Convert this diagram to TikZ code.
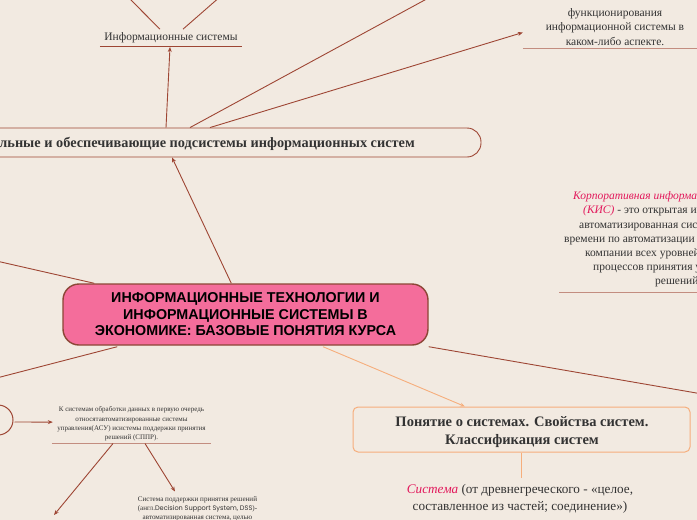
\documentclass[tikz,border=0pt]{standalone}
\usepackage{fontspec}
\setmainfont{Liberation Serif}
\newfontfamily\titlefont{Liberation Sans}
\newfontfamily\dssfont{Poppins}
\usetikzlibrary{arrows.meta,calc}
\definecolor{bg}{HTML}{F2EAE1}
\definecolor{linkc}{HTML}{9E4634}
\definecolor{pinkfill}{HTML}{F46D9B}
\definecolor{mainborder}{HTML}{8C4636}
\definecolor{orng}{HTML}{F6AE7C}
\definecolor{rosy}{HTML}{C38D80}
\definecolor{crimson}{HTML}{E2185B}
\definecolor{txtgray}{HTML}{333333}
\tikzset{
  linkline/.style={draw=linkc, line width=0.9pt},
  arr/.style={linkline, -{Stealth[length=5pt,width=4pt]}},
  orarr/.style={draw=orng, line width=0.9pt, -{Stealth[length=5pt,width=4pt]}},
  uline/.style={draw=rosy, line width=1.3pt},
  txt/.style={inner sep=0pt, text=txtgray},
}
\begin{document}
\begin{tikzpicture}[x=1pt,y=-1pt]
\useasboundingbox (0,0) rectangle (697,520);
\clip (0,0) rectangle (697,520);
\fill[bg] (-10,-10) rectangle (707,530);

% main topic
\node[draw=mainborder, line width=1.4pt, fill=pinkfill, rounded corners=16pt,
      minimum width=365pt, minimum height=61pt, align=center, inner sep=0pt,
      font=\titlefont\bfseries\fontsize{14.3}{16.5}\selectfont] (main) at (245.5,314.5)
  {ИНФОРМАЦИОННЫЕ ТЕХНОЛОГИИ И\\ИНФОРМАЦИОННЫЕ СИСТЕМЫ В\\ЭКОНОМИКЕ: БАЗОВЫЕ ПОНЯТИЯ КУРСА};

% subsystems box
\node[draw=linkc, line width=0.9pt, rounded corners=14pt, minimum width=560pt,
      minimum height=29pt, inner sep=0pt] (sub) at (201,142.5) {};
\node[txt, anchor=east, font=\bfseries\fontsize{14.3}{16}\selectfont] (subt) at (415,144)
  {Функциональные и обеспечивающие подсистемы информационных систем};

% information systems
\node[txt, inner ysep=3pt, minimum width=142pt, anchor=south,
      font=\fontsize{11.5}{13}\selectfont] (info) at (171,46) {Информационные системы};
\draw[linkline] (info.south west) -- (info.south east);

% top right text
\node[txt, align=center, inner ysep=3pt, minimum width=184pt, anchor=south,
      font=\fontsize{11.5}{14.5}\selectfont] (tr) at (615,48.5)
  {функционирования\\информационной системы в\\каком-либо аспекте.};
\draw[uline] (tr.south west) -- (tr.south east);

% KIS text
\node[txt, align=left, anchor=north west, font=\fontsize{11.5}{14.2}\selectfont] (kis) at (564,191.5)
  {\hspace*{9pt}{\color{crimson}\itshape Корпоративная информационная система}\\
   \hspace*{19pt}{\color{crimson}\itshape (КИС)} - это открытая интегрированная\\
   \hspace*{15pt}автоматизированная система реального\\
   времени по автоматизации бизнес-процессов\\
   \hspace*{21pt}компании всех уровней, в том числе\\
   \hspace*{29pt}процессов принятия управленческих\\
   \hspace*{91pt}решений.};
\draw[uline] ($(kis.south west)+(-5,5)$) -- ++(220,0);

% concept box
\node[draw=orng, line width=1pt, rounded corners=5pt, minimum width=337pt,
      minimum height=45pt, inner sep=0pt] (conc) at (521.5,429.5) {};
\node[txt, align=center, font=\bfseries\fontsize{14.5}{18}\selectfont] (conct) at (522,432.5)
  {Понятие о системах. Свойства систем.\\Классификация систем};
\node[txt, align=center, anchor=north, font=\fontsize{13.2}{17}\selectfont] (sys) at (520,484)
  {{\color{crimson}\itshape Система} (от древнегреческого - «целое,\\составленное из частей; соединение»)};
\draw[draw=orng, line width=1pt] (conc.south) -- ($(conc.south |- sys.north)+(0,-6)$);

% left bottom
\node[draw=linkc, line width=1pt, rounded corners=15pt, minimum width=60pt,
      minimum height=30pt] (lb) at (-17,420) {};
\node[txt, align=center, inner ysep=2pt, minimum width=159pt, anchor=south,
      font=\fontsize{7}{9.3}\selectfont] (asu) at (131.5,443.5)
  {К системам обработки данных в первую очередь\\относятавтоматизированные системы\\управления(АСУ) исистемы поддержки принятия\\решений (СППР).};
\draw[uline] (asu.south west) -- (asu.south east);
\node[txt, align=center, anchor=north, font=\fontsize{7.1}{9}\selectfont] (dss) at (197.5,496.5)
  {Система поддержки принятия решений\\(англ.{\dssfont\fontsize{6.6}{9}\selectfont Decision Support System, DSS})-\\автоматизированная система, целью};

% free ends
\coordinate (p1) at (106,-25);
\coordinate (p2) at (245,-25);
\coordinate (offA) at (480,-30);
\coordinate (offL1) at (-40,252.7);
\coordinate (offL2) at (-40,387.5);
\coordinate (offR) at (760,404);
\coordinate (dl) at (54,515);

% connectors
\draw[linkline] ($(info.north)+(-11,0)$) -- (p1);
\draw[linkline] ($(info.north)+(12,0)$) -- (p2);
\draw[arr] ($(sub.north)+(-35,0)$) -- ($(info.south)+(-1,1)$);
\draw[linkline] ($(sub.north)+(-11,0)$) -- (offA);
\draw[arr] ($(sub.north)+(9,0)$) -- ($(tr.south west)+(0,-16)$);
\draw[arr] ($(main.north west)+(169,0)$) -- ($(sub.south)+(-29,0)$);
\draw[linkline] ($(main.north west)+(32,0)$) -- (offL1);
\draw[linkline] ($(main.south west)+(55,1)$) -- (offL2);
\draw[linkline] ($(main.south east)+(0,1)$) -- (offR);
\draw[orarr] ($(main.south)+(77.5,1)$) -- ($(conc.north)+(-56.5,0)$);
\draw[arr] ($(lb.east)+(1,2)$) -- ($(asu.west)+(1,-2)$);
\draw[arr] ($(asu.south)+(-18.5,0)$) -- (dl);
\draw[arr] ($(asu.south)+(13.5,0)$) -- ($(dss.north)+(-22.5,-5)$);
\end{tikzpicture}
\end{document}
